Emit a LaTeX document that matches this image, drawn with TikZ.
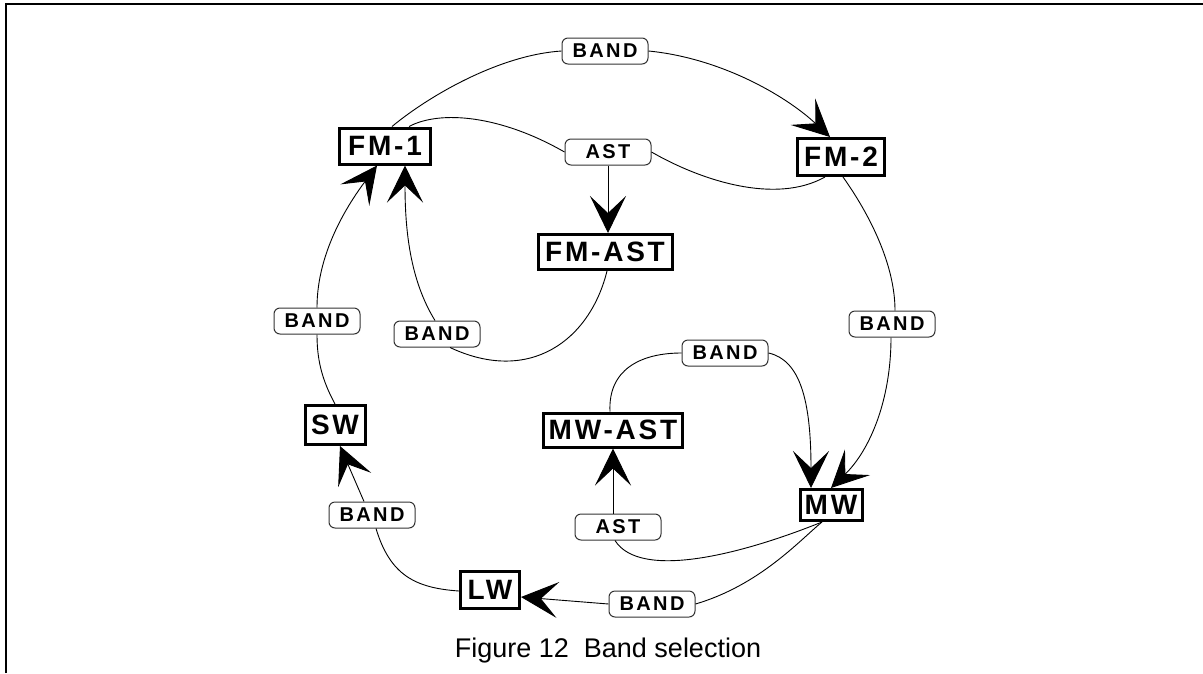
\documentclass[tikz,border=0pt]{standalone}
\usepackage{fontspec}
\setmainfont{Liberation Sans}
\newfontfamily\boxfont[LetterSpace=10]{Liberation Sans}
\newfontfamily\lblfont[LetterSpace=12]{Liberation Sans}
\usetikzlibrary{arrows.meta}
\begin{document}
\begin{tikzpicture}[x=1pt,y=-1pt,
  state/.style={draw, line width=3pt, fill=white, inner sep=0pt,
    font=\boxfont\bfseries\fontsize{28}{30}\selectfont},
  key/.style={draw=black!80, line width=1pt, fill=white, rounded corners=6pt,
    inner sep=0pt, minimum width=86pt, minimum height=26pt,
    font=\lblfont\bfseries\fontsize{20}{22}\selectfont},
  conn/.style={line width=0.9pt},
  arr/.style={conn, -{Stealth[length=37pt,width=36pt,inset=17pt]}}]
\useasboundingbox (0,0) rectangle (1203,673);
\draw[line width=2pt] (6,673) -- (6,4) -- (1203,4);
% states
\node[state, minimum width=91pt, minimum height=36pt] (fm1) at (385,146) {FM-1};
\node[state, minimum width=87pt, minimum height=37pt] (fm2) at (841,157) {FM-2};
\node[state, minimum width=134pt, minimum height=35pt] (fmast) at (605,252) {FM-AST};
\node[state, minimum width=60pt, minimum height=39pt] (sw) at (335,425) {SW};
\node[state, minimum width=139pt, minimum height=34pt] (mwast) at (613,430) {MW-AST};
\node[state, minimum width=62pt, minimum height=31pt] (mw) at (831,505) {MW};
\node[state, minimum width=59pt, minimum height=37pt] (lw) at (490,590) {LW};
% keys
\node[key] (band1) at (605,51) {BAND};
\node[key] (ast1) at (608,152) {AST};
\node[key] (band2) at (317,321) {BAND};
\node[key] (band3) at (437,334) {BAND};
\node[key] (band4) at (372,515) {BAND};
\node[key] (band5) at (652,604) {BAND};
\node[key] (ast2) at (618,527) {AST};
\node[key] (band6) at (725,353) {BAND};
\node[key] (band7) at (892,324) {BAND};
% FM-1 -> FM-2
\draw[conn] ([xshift=7pt]fm1.north) .. controls (430,95) and (500,55) .. (band1.west);
\draw[arr] (band1.east) .. controls (720,58) and (785,95) .. ([xshift=-11pt]fm2.north);
% FM-1 / FM-2 -> FM-AST
\draw[conn] ([xshift=24pt]fm1.north) .. controls (440,110) and (500,115) .. (ast1.west);
\draw[conn] (ast1.east) .. controls (700,180) and (775,205) .. ([xshift=-16pt]fm2.south);
\draw[arr] (ast1.south) -- (ast1.south |- fmast.north);
% FM-AST -> FM-1
\draw[conn] ([xshift=2pt]fmast.south) .. controls (590,340) and (530,385) .. ([xshift=13pt]band3.south);
\draw[arr] ([xshift=-2pt]band3.north) .. controls (410,280) and (405,230) .. ([xshift=20pt]fm1.south);
% SW -> FM-1
\draw[conn] (sw.north) .. controls (322,380) and (317,360) .. (band2.south);
\draw[arr] (band2.north) .. controls (317,260) and (340,215) .. ([xshift=-8pt]fm1.south);
% LW -> SW
\draw[conn] ([yshift=-1pt]lw.west) .. controls (415,588) and (390,575) .. ([xshift=4pt]band4.south);
\draw[arr] ([xshift=-8pt]band4.north) -- ([xshift=5pt]sw.south);
% MW -> LW
\draw[conn] ([xshift=-9pt]mw.south) .. controls (800,540) and (760,585) .. (band5.east);
\draw[arr] (band5.west) -- ([yshift=-7pt]lw.east);
% MW -> MW-AST
\draw[conn] ([xshift=-9pt]mw.south) .. controls (740,555) and (640,580) .. ([xshift=-3pt]ast2.south);
\draw[arr] ([xshift=-5pt]ast2.north) -- (mwast.south);
% MW-AST -> MW
\draw[conn] ([xshift=-3pt]mwast.north) .. controls (608,370) and (640,353) .. (band6.west);
\draw[arr] (band6.east) .. controls (800,360) and (811,400) .. ([xshift=-20pt]mw.north);
% FM-2 -> MW
\draw[conn] ([xshift=2pt]fm2.south) .. controls (870,215) and (895,265) .. ([xshift=3pt]band7.north);
\draw[arr] ([xshift=-1pt]band7.south) .. controls (891,400) and (870,450) .. (mw.north);
% caption
\node[anchor=base, inner sep=0pt, font=\fontsize{27}{29}\selectfont] (cap) at (608,657) {Figure 12~~Band selection};
\end{tikzpicture}
\end{document}
